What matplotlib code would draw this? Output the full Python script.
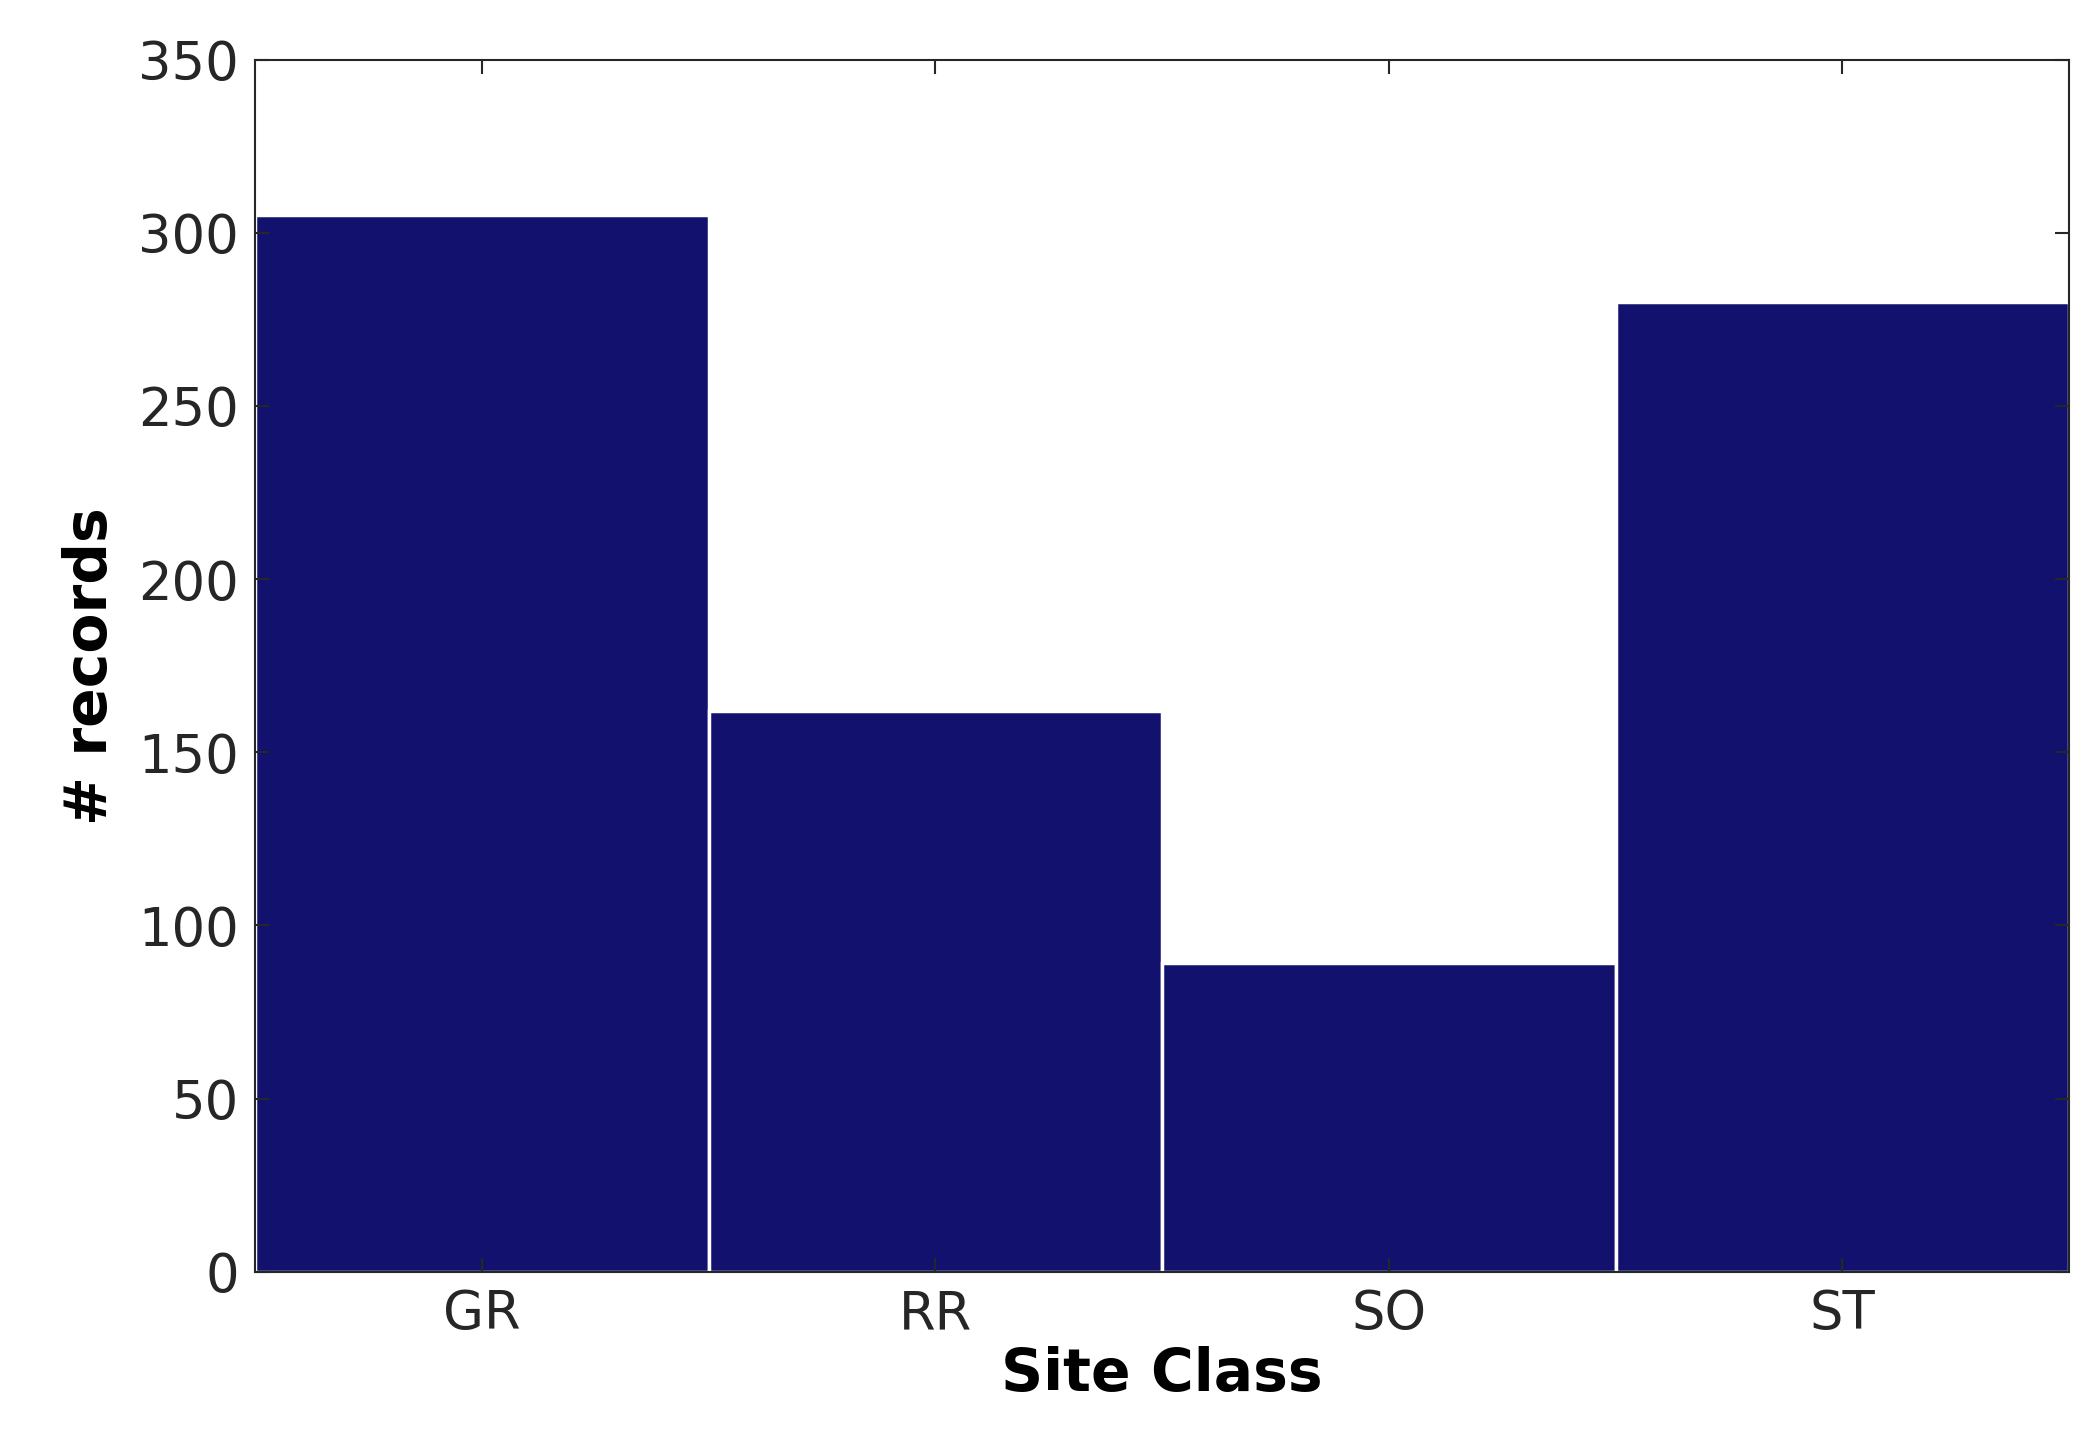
import matplotlib
matplotlib.use("Agg")
import matplotlib.pyplot as plt

categories = ["GR", "RR", "SO", "ST"]
counts = [305, 162, 89, 280]
yticks = [0, 50, 100, 150, 200, 250, 300, 350]

fig = plt.figure(figsize=(20.94, 14.55), dpi=100)
ax = fig.add_axes([0.122, 0.126, 0.866, 0.833])
x = list(range(len(categories)))
ax.bar(x, counts, width=1.0, color="#12126e", edgecolor="white", linewidth=2.5)
ax.set_xlim(-0.5, 3.5)
ax.set_ylim(0, 350)
ax.set_xticks(x)
ax.set_xticklabels(categories)
ax.set_yticks(yticks)
ax.tick_params(direction="in", top=True, right=True, labelsize=38, length=10, width=1.5, colors="#262626", pad=12)
for s in ax.spines.values():
    s.set_linewidth(1.5)
    s.set_color("#262626")
ax.set_xlabel("Site Class", fontsize=42, fontweight="bold", labelpad=4)
ax.set_ylabel("# records", fontsize=42, fontweight="bold", labelpad=14)
fig.savefig("out.png", dpi=100)
